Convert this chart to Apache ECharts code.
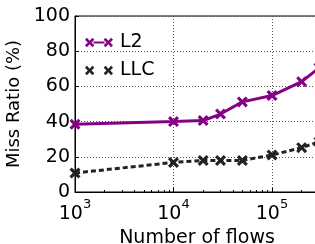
<!DOCTYPE html>
<html>
<head>
<meta charset="utf-8">
<script src="https://cdn.jsdelivr.net/npm/echarts@6/dist/echarts.min.js"></script>
<style>
  html, body { margin: 0; padding: 0; background: #fff; }
  #chart { width: 315px; height: 244px; }
</style>
</head>
<body>
<div id="chart"></div>
<script>
// flows (x) and miss ratios (%)
const flows = [1000, 10000, 20000, 30000, 50000, 100000, 200000, 300000];
const l2Miss = [38.5, 40, 40.6, 44.3, 51.2, 54.8, 62.7, 70.5];
const llcMiss = [10.8, 16.8, 17.9, 17.9, 17.9, 21, 25.2, 28.5];
const yTicks = [0, 20, 40, 60, 80, 100];
const xMinorTicks = [2000, 3000, 4000, 5000, 6000, 7000, 8000, 9000,
  20000, 30000, 40000, 50000, 60000, 70000, 80000, 90000, 200000, 300000];

const X_MARK = 'path://M2,0 L5,3 L8,0 L10,2 L7,5 L10,8 L8,10 L5,7 L2,10 L0,8 L3,5 L0,2 Z';
const L2_ICON = 'path://M2,0 L5,3 L8,0 L10,2 L7,5 L10,8 L8,10 L5,7 L2,10 L0,8 L3,5 L0,2 Z ' +
  'M9,4 L21,4 L21,6 L9,6 Z ' +
  'M22,0 L25,3 L28,0 L30,2 L27,5 L30,8 L28,10 L25,7 L22,10 L20,8 L23,5 L20,2 Z';
const LLC_ICON = 'path://M2,0 L5,3 L8,0 L10,2 L7,5 L10,8 L8,10 L5,7 L2,10 L0,8 L3,5 L0,2 Z ' +
  'M22,0 L25,3 L28,0 L30,2 L27,5 L30,8 L28,10 L25,7 L22,10 L20,8 L23,5 L20,2 Z';

const FONT = 'DejaVu Sans';
const purple = '#850085';
const dark = '#222222';

const chart = echarts.init(document.getElementById('chart'), null, { renderer: 'canvas' });

const option = {
  animation: false,
  textStyle: { fontFamily: FONT },
  grid: {
    left: 75, top: 16, right: -4, bottom: 52,
    containLabel: false,
    outerBoundsMode: 'none',
    show: true, borderColor: '#000', borderWidth: 1
  },
  legend: {
    orient: 'vertical',
    left: 80, top: 28,
    itemWidth: 28, itemHeight: 10, itemGap: 9,
    textStyle: { fontFamily: FONT, fontSize: 19, color: '#000', padding: [2, 0, 0, 2] },
    data: [
      { name: 'L2', icon: L2_ICON, itemStyle: { color: purple } },
      { name: 'LLC', icon: LLC_ICON, itemStyle: { color: dark } }
    ]
  },
  xAxis: [
    {
      type: 'log',
      logBase: 10,
      min: 1000,
      max: 300000,
      name: 'Number of flows',
      nameLocation: 'middle',
      nameGap: 31,
      nameTextStyle: { fontFamily: FONT, fontSize: 19, color: '#000' },
      axisLine: { show: true, lineStyle: { color: '#000', width: 1 } },
      axisTick: { show: true, inside: true, length: 4, lineStyle: { color: '#000' } },
      minorTick: { show: false },
      splitLine: { show: true, lineStyle: { color: '#555', type: [1, 2], width: 1 } },
      axisLabel: {
        margin: 6,
        showMaxLabel: false,
        color: '#000',
        fontFamily: FONT,
        fontSize: 19,
        formatter: function (v) {
          const e = Math.round(Math.log10(v));
          return '{b|10}{s|' + e + '}';
        },
        rich: {
          b: { fontFamily: FONT, fontSize: 19, color: '#000', padding: [7, 0, 0, 0] },
          s: { fontFamily: FONT, fontSize: 13, color: '#000', verticalAlign: 'top', padding: [0, 0, 0, 0] }
        }
      }
    },
    {
      // minor ticks of the log axis
      type: 'log',
      logBase: 10,
      min: 1000,
      max: 300000,
      position: 'bottom',
      axisLine: { show: false },
      axisLabel: { show: false },
      splitLine: { show: false },
      axisTick: {
        show: true, inside: true, length: 2,
        customValues: xMinorTicks,
        lineStyle: { color: '#000' }
      }
    }
  ],
  yAxis: {
    type: 'value',
    min: yTicks[0],
    max: yTicks[yTicks.length - 1],
    interval: 20,
    name: 'Miss Ratio (%)',
    nameLocation: 'middle',
    nameGap: 50,
    nameTextStyle: { fontFamily: FONT, fontSize: 18, color: '#000' },
    axisLine: { show: true, lineStyle: { color: '#000', width: 1 } },
    axisTick: { show: true, inside: true, length: 4, lineStyle: { color: '#000' } },
    splitLine: { show: true, lineStyle: { color: '#555', type: [1, 2], width: 1 } },
    axisLabel: { margin: 5, color: '#000', fontFamily: FONT, fontSize: 19 }
  },
  series: [
    {
      name: 'L2',
      type: 'line',
      data: flows.map((f, i) => [f, l2Miss[i]]),
      symbol: X_MARK,
      symbolSize: 11,
      color: purple,
      itemStyle: { color: purple },
      lineStyle: { color: purple, width: 3 },
      clip: false,
      z: 3
    },
    {
      name: 'LLC',
      type: 'line',
      data: flows.map((f, i) => [f, llcMiss[i]]),
      symbol: X_MARK,
      symbolSize: 11,
      color: dark,
      itemStyle: { color: dark },
      lineStyle: { color: dark, width: 3, type: [5, 3] },
      clip: false,
      z: 2
    }
  ]
};

chart.setOption(option);
window.addEventListener('resize', () => chart.resize());
</script>
</body>
</html>
